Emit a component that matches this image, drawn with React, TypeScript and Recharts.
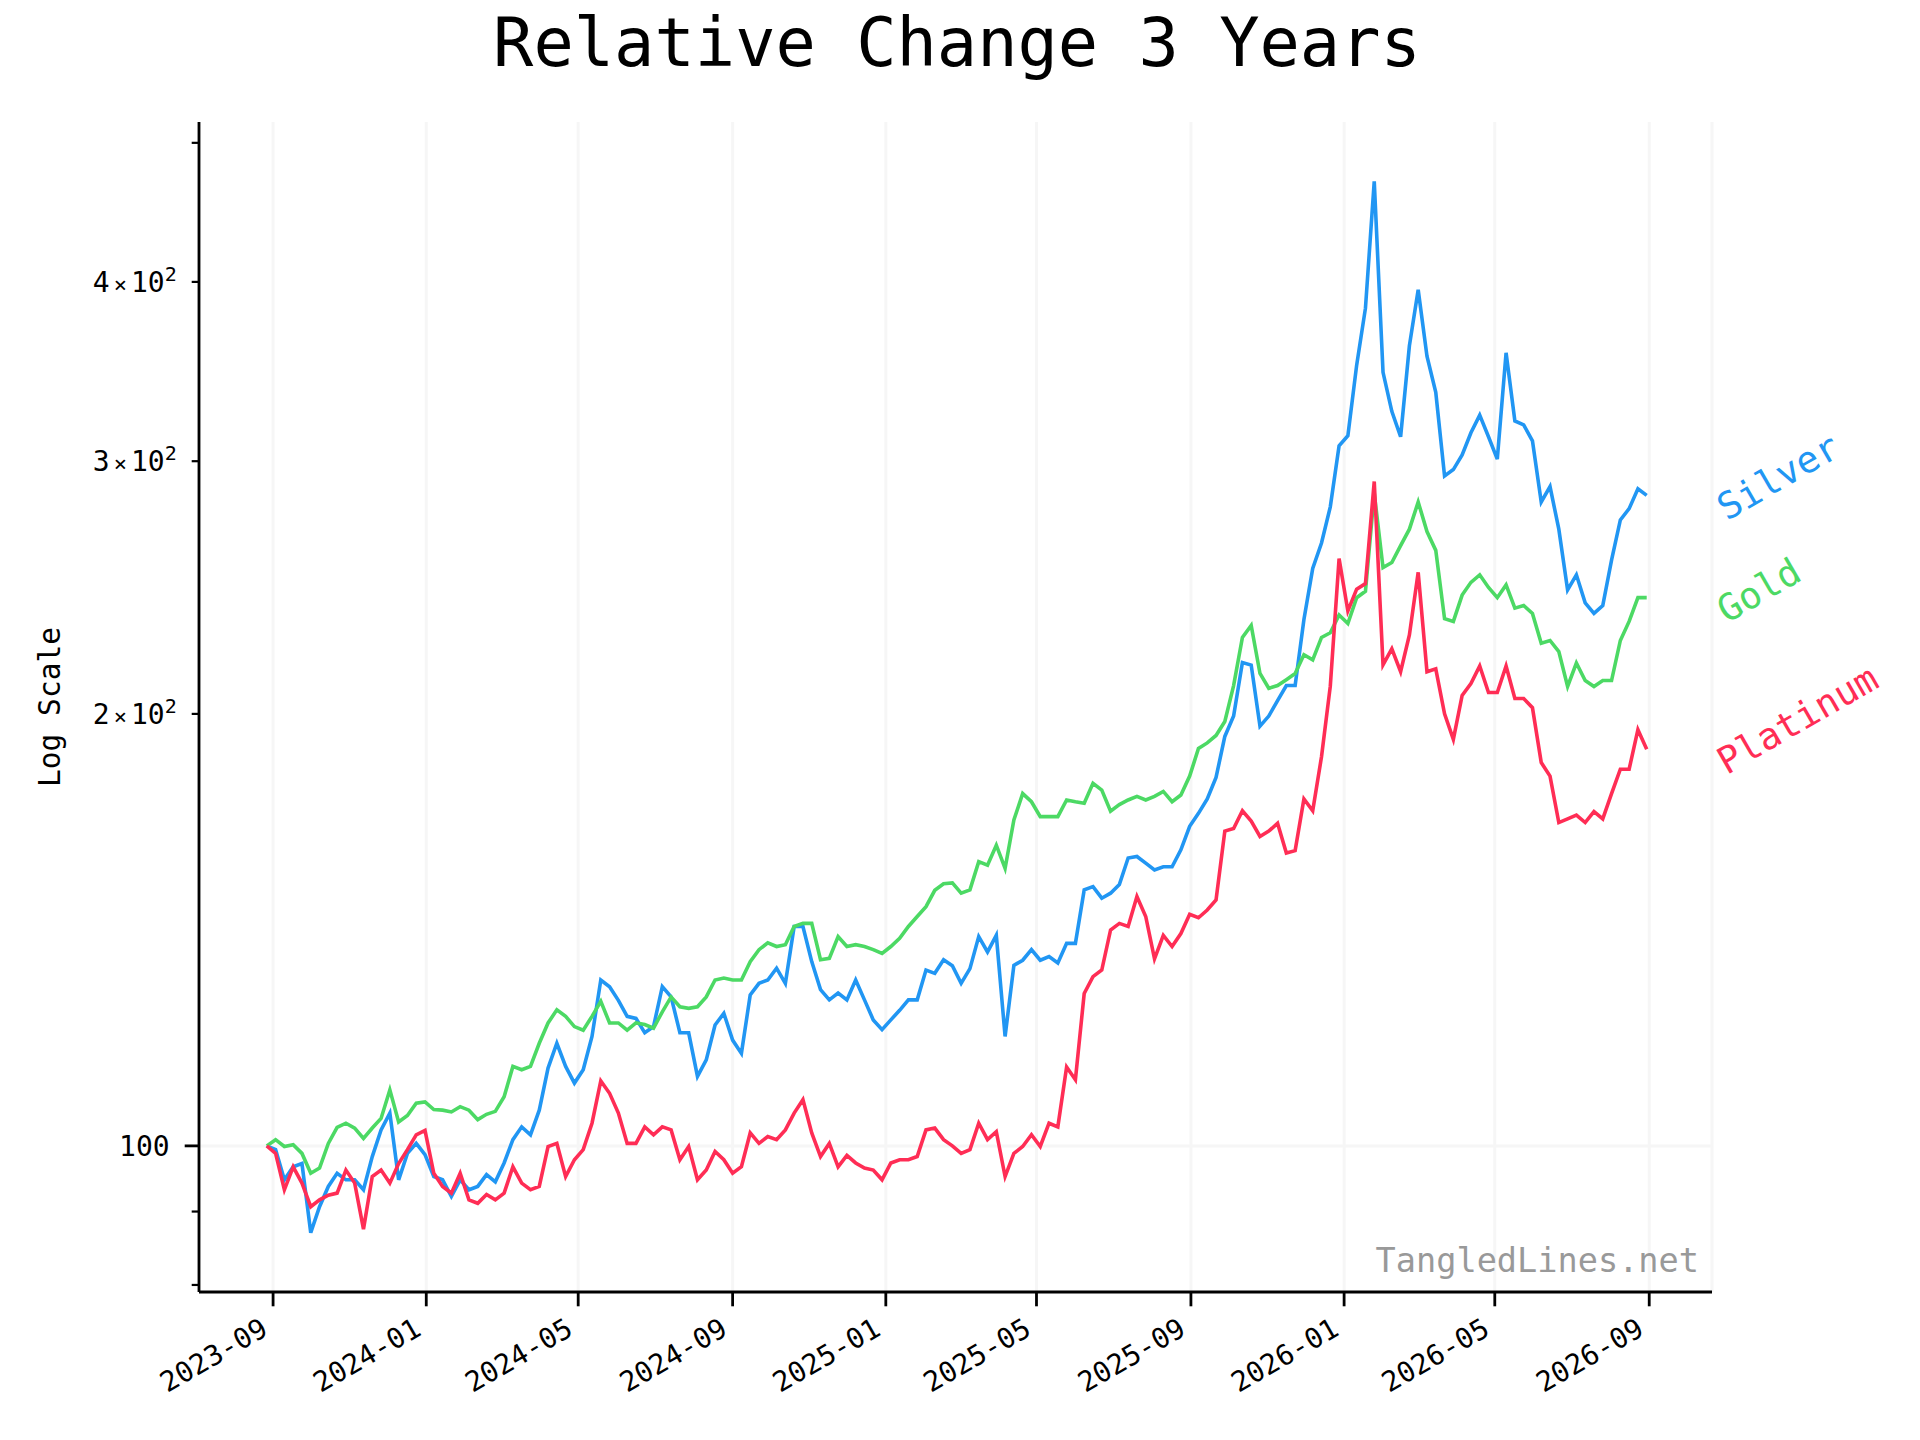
import { LineChart, Line, XAxis, YAxis, CartesianGrid, ReferenceLine } from "recharts";

const FONT = '"DejaVu Sans Mono", monospace';

// weekly samples, day 0 = 2023-09-01
const START_DAY = -5;
const STEP_DAYS = 7;

const SILVER = [
  100, 99.4, 94.7, 96.7, 97.2, 87, 90.7, 93.7, 95.7, 94.7,
  94.7, 93.2, 98.3, 102.6, 105.4, 94.7, 98.8, 100.4, 98.6, 95.2,
  94.7, 92.2, 94.7, 93.2, 93.7, 95.5, 94.4, 97.3, 101, 103.1,
  101.8, 105.9, 113.3, 117.9, 113.6, 110.6, 113, 119.2, 130.5, 129.1,
  126.3, 123.1, 122.7, 119.9, 121.1, 129.1, 127, 119.9, 119.9, 111.8,
  114.8, 121.4, 123.7, 118.5, 116, 127.4, 129.8, 130.5, 133, 129.8,
  142.2, 142.2, 134.4, 128.5, 126.4, 127.8, 126.4, 130.5, 126.4, 122.4,
  120.5, 122.4, 124.3, 126.4, 126.4, 132.6, 131.9, 134.8, 133.5, 129.8,
  132.9, 139.9, 136.5, 140.2, 119.2, 133.6, 134.7, 137, 134.7, 135.5,
  134.1, 138.4, 138.4, 150.8, 151.6, 148.8, 150, 152.1, 158.7, 159.1,
  157.4, 155.7, 156.5, 156.5, 160.8, 167, 170.5, 174.5, 180.6, 192.9,
  199.3, 217.2, 216.3, 196.1, 199.3, 204.3, 209.3, 209.3, 232.7, 252.6,
  263.1, 278.8, 307.5, 312.5, 350, 383.5, 470, 346, 325, 312,
  361, 395, 355, 335, 293, 296, 303, 314, 323, 312,
  301, 357, 320, 318, 310, 281, 288, 269, 244, 250,
  239, 235, 238, 256, 273, 278, 287, 284,
];

const GOLD = [
  100, 101, 99.9, 100.2, 98.8, 95.7, 96.5, 100.4, 103, 103.7,
  102.9, 101.2, 102.9, 104.5, 109.4, 103.9, 105, 107.1, 107.3, 106,
  105.9, 105.6, 106.5, 105.9, 104.3, 105.2, 105.7, 108.2, 113.6, 113,
  113.6, 117.9, 121.8, 124.4, 123.1, 121.1, 120.4, 123.1, 126.1, 121.8,
  121.8, 120.4, 121.8, 121.5, 120.8, 124, 127, 125, 124.7, 125,
  127, 130.5, 130.9, 130.5, 130.5, 134.4, 137, 138.5, 137.7, 138.1,
  142.2, 142.9, 142.9, 134.8, 135.1, 139.9, 137.7, 138.1, 137.7, 137,
  136.2, 137.7, 139.5, 142.2, 144.5, 146.8, 150.7, 152.3, 152.5, 150,
  150.8, 157.8, 156.9, 162, 156.1, 168.7, 176, 173.7, 169.6, 169.6,
  169.6, 174.2, 173.7, 173.3, 178.9, 177, 171.1, 172.9, 174.2, 175.2,
  174.2, 175.2, 176.6, 173.7, 175.6, 181, 189.2, 190.9, 193.2, 197.6,
  209.3, 226.1, 230.5, 213.4, 208.4, 209.3, 211.3, 213.4, 219.9, 218.1,
  226.1, 227.8, 234.4, 231.2, 241, 243.5, 285, 252.9, 255, 262,
  269, 281, 268, 260, 233, 232, 242, 247, 250, 245,
  241, 246, 237, 238, 235, 224, 225, 221, 209, 217,
  211, 209, 211, 211, 225, 232, 241, 241,
];

const PLATINUM = [
  100, 98.8, 93.2, 96.7, 94.2, 90.7, 91.7, 92.4, 92.7, 96.2,
  94.2, 87.5, 95.2, 96.2, 94.2, 97.2, 99.4, 101.8, 102.5, 95.7,
  93.7, 92.7, 95.7, 91.7, 91.2, 92.5, 91.7, 92.7, 96.7, 94.2,
  93.2, 93.7, 99.9, 100.4, 95.2, 97.8, 99.4, 103.7, 111, 108.8,
  105.4, 100.4, 100.4, 103.1, 101.8, 103.1, 102.6, 97.8, 99.9, 94.7,
  96.2, 99.1, 97.8, 95.7, 96.7, 102.1, 100.4, 101.5, 101, 102.6,
  105.4, 107.7, 102.1, 98.3, 100.4, 96.7, 98.5, 97.3, 96.5, 96.2,
  94.7, 97.3, 97.8, 97.8, 98.3, 102.6, 102.9, 101, 100, 98.8,
  99.4, 103.7, 101, 102.3, 95.2, 98.8, 99.9, 101.8, 99.9, 103.7,
  103.1, 113.5, 111.2, 127.7, 131.2, 132.6, 141.4, 142.9, 142.2, 149.2,
  144.5, 135, 140.2, 137.7, 140.6, 145, 144.2, 146, 148.4, 165.7,
  166.4, 171.2, 168.4, 164.3, 165.7, 167.8, 160, 160.6, 174.5, 171.2,
  186.7, 209.1, 256.6, 235.9, 244.3, 246.5, 290.4, 216.4, 222, 214,
  227, 251, 214, 215, 200, 192, 206, 210, 216, 207,
  207, 216, 205, 205, 202, 185, 181, 168, 169, 170,
  168, 171, 169, 176, 183, 183, 195, 189,
];

const X_TICK_DAYS = [0, 122, 243, 366, 488, 608, 731, 853, 973, 1096];
const X_TICK_LABELS = [
  "2023-09", "2024-01", "2024-05", "2024-09", "2025-01",
  "2025-05", "2025-09", "2026-01", "2026-05", "2026-09",
];
const Y_TICKS = [80, 90, 100, 200, 300, 400, 500];
const Y_TICK_LABELS = ["", "", "100", "2×10²", "3×10²", "4×10²", ""];

const SILVER_COLOR = "#2196F3";
const GOLD_COLOR = "#4CD964";
const PLATINUM_COLOR = "#FF2D55";

function XTick(props: any) {
  const { x, y, payload } = props;
  const label = X_TICK_LABELS[X_TICK_DAYS.indexOf(payload.value)] ?? "";
  const tx = x - 3.5;
  const ty = y + 42;
  return (
    <g>
      <line x1={x} x2={x} y1={y} y2={y + 14.3} stroke="#000" strokeWidth={2.8} />
      <text
        x={tx}
        y={ty}
        transform={`rotate(-30 ${tx} ${ty})`}
        textAnchor="end"
        fontSize={28}
        fontFamily={FONT}
        fill="#000"
      >
        {label}
      </text>
    </g>
  );
}

function YTick(props: any) {
  const { x, y, payload } = props;
  const label = Y_TICK_LABELS[Y_TICKS.indexOf(payload.value)] ?? "";
  const major = payload.value === 100;
  const len = major ? 14.3 : 7.3;
  let content: any = label;
  if (label.includes("×")) {
    const [mant, rest] = label.split("×");
    content = (
      <>
        <tspan>{mant}</tspan>
        <tspan dx={4} fontSize={22}>×</tspan>
        <tspan dx={4}>{rest.slice(0, 2)}</tspan>
        <tspan dy={-11} fontSize={20}>{rest.slice(2) === "²" ? "2" : rest.slice(2)}</tspan>
      </>
    );
  }
  return (
    <g>
      <line x1={x - len} x2={x} y1={y} y2={y} stroke="#000" strokeWidth={major ? 2.8 : 2.2} />
      {label && (
        <text
          x={x - len - 15}
          y={y + 10}
          textAnchor="end"
          fontSize={28}
          fontFamily={FONT}
          fill="#000"
        >
          {content}
        </text>
      )}
    </g>
  );
}

function endLabel(name: string, color: string) {
  return (props: any) => {
    const { cx, cy, index } = props;
    if (index !== SILVER.length - 1) return <g key={`${name}-${index}`} />;
    const tx = cx + 80;
    const ty = cy + 26;
    return (
      <text
        key={`${name}-end`}
        x={tx}
        y={ty}
        transform={`rotate(-30 ${tx} ${ty})`}
        fill={color}
        fontSize={37}
        fontFamily={FONT}
      >
        {name}
      </text>
    );
  };
}

export default function App() {
  const data = SILVER.map((s, i) => ({
    day: START_DAY + STEP_DAYS * i,
    silver: s,
    gold: GOLD[i],
    platinum: PLATINUM[i],
  }));

  return (
    <div style={{ position: "absolute", left: 0, top: 0, width: 1920, height: 1440, background: "#fff" }}>
      <LineChart
        width={1920}
        height={1440}
        data={data}
        margin={{ top: 122, right: 208, bottom: 48, left: 79 }}
      >
        <CartesianGrid horizontal={false} stroke="#f6f6f6" strokeWidth={3} />
        <ReferenceLine y={100} stroke="#f6f6f6" strokeWidth={3} />
        <XAxis
          dataKey="day"
          type="number"
          domain={[-59, 1146]}
          ticks={X_TICK_DAYS}
          interval={0}
          height={100}
          tickLine={false}
          tickSize={0}
          tickMargin={0}
          axisLine={{ stroke: "#000", strokeWidth: 2.8 }}
          tick={<XTick />}
        />
        <YAxis
          type="number"
          scale="log"
          domain={[79.1, 517]}
          ticks={Y_TICKS}
          interval={0}
          width={120}
          tickLine={false}
          tickSize={0}
          tickMargin={0}
          axisLine={{ stroke: "#000", strokeWidth: 2.8 }}
          tick={<YTick />}
        />
        <Line
          dataKey="silver"
          type="linear"
          stroke={SILVER_COLOR}
          strokeWidth={3.6}
          dot={endLabel("Silver", SILVER_COLOR)}
          activeDot={false}
          isAnimationActive={false}
        />
        <Line
          dataKey="gold"
          type="linear"
          stroke={GOLD_COLOR}
          strokeWidth={3.6}
          dot={endLabel("Gold", GOLD_COLOR)}
          activeDot={false}
          isAnimationActive={false}
        />
        <Line
          dataKey="platinum"
          type="linear"
          stroke={PLATINUM_COLOR}
          strokeWidth={3.6}
          dot={endLabel("Platinum", PLATINUM_COLOR)}
          activeDot={false}
          isAnimationActive={false}
        />
      </LineChart>
      <svg
        width={1920}
        height={1440}
        style={{ position: "absolute", left: 0, top: 0, pointerEvents: "none" }}
      >
        <text x={957} y={66} textAnchor="middle" fontSize={67} fontFamily={FONT} fill="#000">
          Relative Change 3 Years
        </text>
        <text
          x={60}
          y={707}
          transform="rotate(-90 60 707)"
          textAnchor="middle"
          fontSize={29.5}
          fontFamily={FONT}
          fill="#000"
        >
          Log Scale
        </text>
        <text x={1699} y={1272} textAnchor="end" fontSize={33.6} fontFamily={FONT} fill="#999999">
          TangledLines.net
        </text>
      </svg>
    </div>
  );
}
